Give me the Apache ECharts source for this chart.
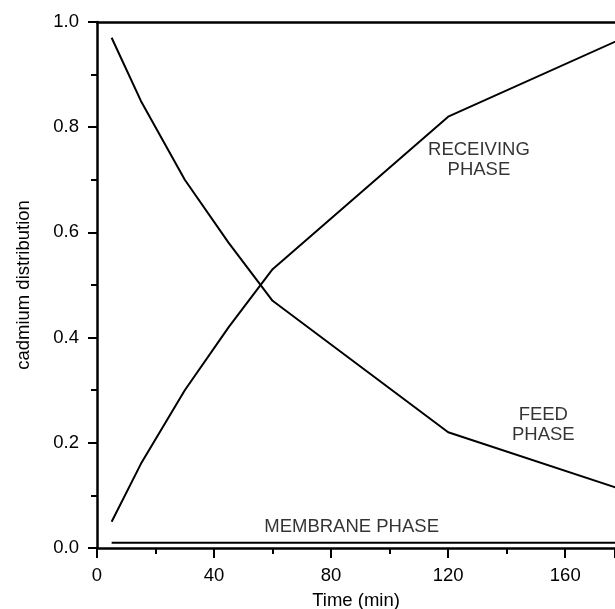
<!DOCTYPE html>
<html>
<head>
<meta charset="utf-8">
<script src="https://cdn.jsdelivr.net/npm/echarts@6/dist/echarts.min.js"></script>
<style>html,body{margin:0;padding:0;background:#fff}#c{width:615px;height:609px}</style>
</head>
<body>
<div id="c"></div>
<script>
const timeMin = [5, 15, 30, 45, 60, 120, 180];
const feedPhase = [0.97, 0.85, 0.70, 0.58, 0.47, 0.22, 0.11];
const receivingPhase = [0.05, 0.16, 0.30, 0.42, 0.53, 0.82, 0.97];
const membraneTime = [5, 180];
const membranePhase = [0.01, 0.01];
const xTicks = [0, 40, 80, 120, 160];
const yTicks = [0.0, 0.2, 0.4, 0.6, 0.8, 1.0];
const labelTexts = ['RECEIVING\nPHASE', 'FEED\nPHASE', 'MEMBRANE PHASE'];
const labelAt = [[130.5, 0.737], [152.5, 0.234], [87, 0.04]];

const FONT = 'Liberation Sans, Arial, Helvetica, sans-serif';
const FS = 18.5;
const pair = (xs, ys) => xs.map((x, i) => [x, ys[i]]);
const lineStyle = {color: '#000', width: 2};

const chart = echarts.init(document.getElementById('c'), null, {renderer: 'canvas'});
chart.setOption({
  animation: false,
  backgroundColor: '#fff',
  grid: {left: 97, right: 0, top: 22, bottom: 61, containLabel: false, outerBoundsMode: 'none'},
  xAxis: [{
    type: 'value', min: 0, max: 177, interval: 40,
    name: 'Time (min)', nameLocation: 'middle', nameGap: 43,
    nameTextStyle: {fontFamily: FONT, fontSize: FS, color: '#000'},
    axisLine: {show: true, lineStyle: {color: '#000', width: 2.5}},
    axisTick: {show: true, length: 10, lineStyle: {color: '#000', width: 2}},
    minorTick: {show: true, splitNumber: 2, length: 6, lineStyle: {color: '#000', width: 2}},
    splitLine: {show: false},
    axisLabel: {margin: 18, fontFamily: FONT, fontSize: FS, color: '#000',
      formatter: v => xTicks.includes(v) ? String(v) : ''}
  }, {
    type: 'value', min: 0, max: 177, position: 'top',
    axisLine: {show: true, lineStyle: {color: '#000', width: 2.5}},
    axisTick: {show: false}, axisLabel: {show: false}, splitLine: {show: false}
  }],
  yAxis: {
    type: 'value', min: 0, max: 1, interval: 0.2,
    name: 'cadmium distribution', nameLocation: 'middle', nameGap: 64,
    nameTextStyle: {fontFamily: FONT, fontSize: FS, color: '#000'},
    axisLine: {show: true, lineStyle: {color: '#000', width: 2.5}},
    axisTick: {show: true, length: 9, lineStyle: {color: '#000', width: 2}},
    minorTick: {show: true, splitNumber: 2, length: 6, lineStyle: {color: '#000', width: 2}},
    splitLine: {show: false},
    axisLabel: {margin: 18, fontFamily: FONT, fontSize: FS, color: '#000',
      formatter: v => yTicks.find(t => Math.abs(t - v) < 1e-9) !== undefined ? v.toFixed(1) : ''}
  },
  series: [
    {type: 'line', data: pair(timeMin, feedPhase), showSymbol: false, lineStyle, clip: true},
    {type: 'line', data: pair(timeMin, receivingPhase), showSymbol: false, lineStyle, clip: true},
    {type: 'line', data: pair(membraneTime, membranePhase), showSymbol: false, lineStyle, clip: true},
    {type: 'scatter', symbolSize: 0, silent: true,
      data: labelAt.map((p, i) => ({value: p, label: {formatter: labelTexts[i]}})),
      label: {show: true, position: 'inside', fontFamily: FONT, fontSize: FS, color: '#000',
        lineHeight: 20, align: 'center', verticalAlign: 'middle'}}
  ]
});
</script>
</body>
</html>
